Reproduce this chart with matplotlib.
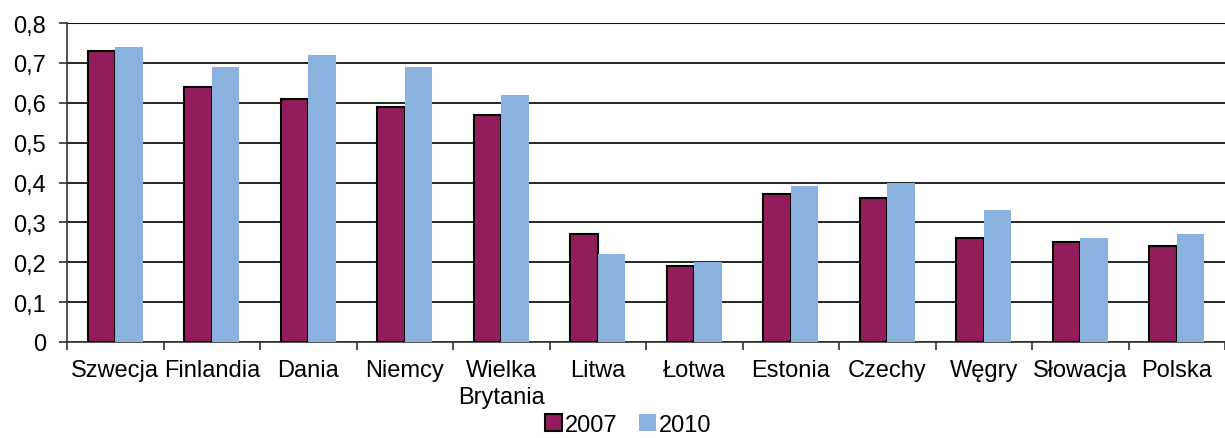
import numpy as np
import matplotlib
matplotlib.use('Agg')
import matplotlib.pyplot as plt
from matplotlib.ticker import FixedLocator, FuncFormatter

plt.rcParams['font.family'] = ['Liberation Sans', 'DejaVu Sans']

countries = ['Szwecja', 'Finlandia', 'Dania', 'Niemcy', 'Wielka\nBrytania', 'Litwa',
             'Łotwa', 'Estonia', 'Czechy', 'Węgry', 'Słowacja', 'Polska']
v2007 = [0.73, 0.64, 0.61, 0.59, 0.57, 0.27, 0.19, 0.37, 0.36, 0.26, 0.25, 0.24]
v2010 = [0.74, 0.69, 0.72, 0.69, 0.62, 0.22, 0.20, 0.39, 0.40, 0.33, 0.26, 0.27]

C2007 = '#921D5A'
C2010 = '#8AB2DE'
FS = 17

fig = plt.figure(figsize=(12.25, 4.39), dpi=100)
ax = fig.add_axes([0.0547, 0.2187, 0.9453, 0.7266])

x = np.arange(len(countries))
w = 1 / 3.5
ax.bar(x - w / 2, v2007, w, color=C2007, edgecolor='black', linewidth=1.5,
       label='2007', zorder=3)
ax.bar(x + w / 2, v2010, w, color=C2010, edgecolor='none', label='2010', zorder=3)

ax.set_xlim(-0.5, len(countries) - 0.5)
ax.set_ylim(0, 0.8)
ax.set_yticks(np.arange(0, 0.81, 0.1))
ax.yaxis.set_major_formatter(FuncFormatter(lambda v, _: f'{v:.1f}'.replace('.', ',').replace('0,0', '0')))
ax.yaxis.grid(True, color='black', linewidth=1.2, zorder=0)
ax.axhline(0.8, color='#888888', linewidth=1.5, zorder=1)

# category labels centred, tick marks between categories
ax.set_xticks(x)
ax.set_xticklabels(countries, fontsize=FS, linespacing=1.3)
ax.tick_params(axis='x', length=0, pad=12)
ax.xaxis.set_minor_locator(FixedLocator(np.arange(-0.5, len(countries), 1.0)))
ax.tick_params(axis='x', which='minor', length=6, width=1.2, color='#333333', direction='out')
ax.tick_params(axis='y', length=6, width=1.2, color='#333333', labelsize=FS, pad=9)

for s in ['top', 'right']:
    ax.spines[s].set_visible(False)
ax.spines['left'].set_linewidth(1.2)
ax.spines['left'].set_color('#333333')
ax.spines['bottom'].set_linewidth(1.2)
ax.spines['bottom'].set_color('#333333')

fig.legend(loc='lower center', bbox_to_anchor=(0.513, -0.022), ncol=2, frameon=False,
           fontsize=FS, handlelength=0.7, handleheight=0.7, handletextpad=0.15,
           columnspacing=0.9, borderpad=0)

fig.savefig('out.png', dpi=100)
